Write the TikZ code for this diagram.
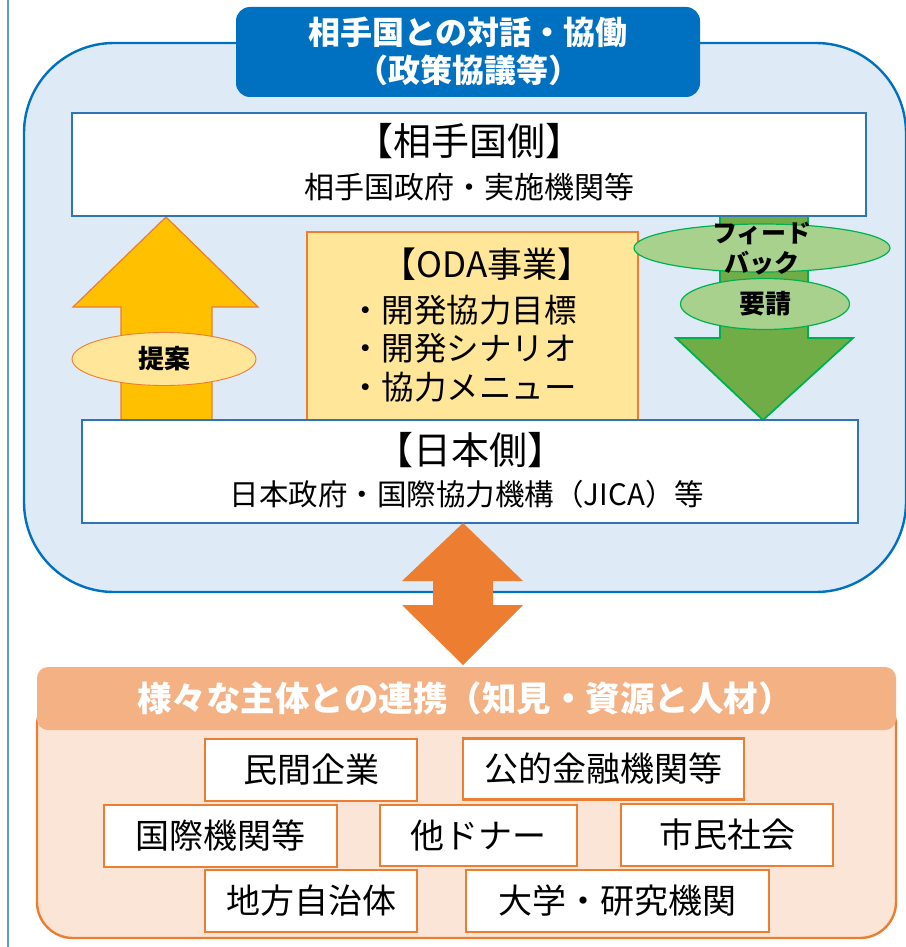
\documentclass[tikz,border=0pt]{standalone}
\usepackage{fontspec}
\setmainfont{Noto Sans CJK JP}
\usetikzlibrary{shapes.geometric}
\definecolor{sideblue}{HTML}{5B9BD5}
\definecolor{dblue}{HTML}{0070C0}
\definecolor{lblue}{HTML}{DEEBF7}
\definecolor{mblue}{HTML}{2E75B6}
\definecolor{orng}{HTML}{ED7D31}
\definecolor{lorng}{HTML}{F4B183}
\definecolor{porng}{HTML}{FBE5D6}
\definecolor{lyel}{HTML}{FFE699}
\definecolor{gold}{HTML}{FFC000}
\definecolor{grn}{HTML}{70AD47}
\definecolor{brgrn}{HTML}{00B050}
\definecolor{lgrn}{HTML}{A9D18E}
\tikzset{
  fs/.style={font=\fontsize{#1}{#1}\selectfont},
  whitebox/.style={draw=mblue, line width=1.8pt, fill=white},
  partbox/.style={draw=orng, line width=2.2pt, fill=white, inner sep=0pt, fs=34},
  ovalo/.style={ellipse, draw=orng, line width=0.9pt, fill=lyel, inner sep=0pt},
  ovalg/.style={ellipse, draw=brgrn, line width=1.2pt, fill=lgrn, inner sep=0pt},
  lbl/.style={inner sep=0pt, text=black}
}
\begin{document}
\begin{tikzpicture}[x=1pt,y=-1pt]
\useasboundingbox (0,0) rectangle (905,947);
% side line
\draw[sideblue, line width=2.6pt] (8,0) -- (8,947);
% outer blue container
\draw[fill=lblue, draw=dblue, line width=2.4pt, rounded corners=90pt] (24,43) rectangle (906,592);
% title box
\node[fill=dblue, rounded corners=14pt, minimum width=464pt, minimum height=90pt, inner sep=0pt] (title) at (468,52) {};
\node[lbl, text=white, align=center, font=\fontsize{32}{38}\selectfont\bfseries] (titletext) at (468,51) {相手国との対話・協働\\（政策協議等）};
% up arrow
\draw[fill=gold, draw=orng, line width=1.2pt] (166,217) -- (258,307) -- (212,307) -- (212,420) -- (121,420) -- (121,307) -- (73,307) -- cycle;
% down arrow
\draw[fill=grn, draw=brgrn, line width=1.8pt] (720,216) -- (808,216) -- (808,338) -- (853,338) -- (763,420) -- (676,338) -- (720,338) -- cycle;
% partner box
\draw[whitebox] (72,113) rectangle (866,216);
\node[lbl, fs=38] (ptitle) at (469,141) {【相手国側】};
\node[lbl, fs=30] (psub) at (469,187) {相手国政府・実施機関等};
% ODA box
\draw[fill=lyel, draw=orng, line width=1.2pt] (307,232) rectangle (638,420);
\node[lbl, fs=35] (oda) at (487,264) {【ODA事業】};
\node[lbl, fs=32.5, anchor=west] (oda1) at (349,310) {・開発協力目標};
\node[lbl, fs=32.5, anchor=west] (oda2) at (349,348) {・開発シナリオ};
\node[lbl, fs=32.5, anchor=west] (oda3) at (349,387) {・協力メニュー};
% japan box
\draw[whitebox] (82,420) rectangle (858,523);
\node[lbl, fs=38] (jtitle) at (470,450) {【日本側】};
\node[lbl, fs=29.5] (jsub) at (467,494) {日本政府・国際協力機構（JICA）等};
% ellipses
\node[ovalo, minimum width=184pt, minimum height=53pt] (teian) at (164,359) {};
\node[lbl, font=\fontsize{26}{26}\selectfont\bfseries] (teiant) at (164,359) {提案};
\node[ovalg, minimum width=256pt, minimum height=48pt] (fb) at (762,248) {};
\node[lbl, font=\fontsize{25}{25}\selectfont\bfseries] (fb1) at (762,233) {フィード};
\node[lbl, font=\fontsize{25}{25}\selectfont\bfseries] (fb2) at (762,263) {バック};
\node[ovalg, minimum width=169pt, minimum height=51pt] (yosei) at (765,304) {};
\node[lbl, font=\fontsize{26}{26}\selectfont\bfseries] (yoseit) at (765,304) {要請};
% double arrow
\fill[orng] (463,523) -- (523,581) -- (493,581) -- (493,605) -- (523,605) -- (463,665) -- (402,605) -- (433,605) -- (433,581) -- (402,581) -- cycle;
% bottom container
\draw[fill=porng, draw=orng, line width=2.4pt, rounded corners=36pt] (37,690) rectangle (896,938);
\fill[lorng, rounded corners=11pt] (37,667) rectangle (896,730);
\node[lbl, text=white, font=\fontsize{34.5}{34.5}\selectfont\bfseries] (btitle) at (465,698) {様々な主体との連携（知見・資源と人材）};
% partner boxes
\node[partbox, minimum width=212pt, minimum height=62pt] (b1) at (311,770) {民間企業};
\node[partbox, minimum width=281pt, minimum height=61pt] (b2) at (603.5,769) {公的金融機関等};
\node[partbox, minimum width=233pt, minimum height=62pt] (b3) at (220.5,836) {国際機関等};
\node[partbox, minimum width=197pt, minimum height=61pt] (b4) at (478.5,835.5) {他ドナー};
\node[partbox, minimum width=212pt, minimum height=62pt] (b5) at (727,835) {市民社会};
\node[partbox, minimum width=212pt, minimum height=62pt] (b6) at (311,901) {地方自治体};
\node[partbox, minimum width=303pt, minimum height=62pt] (b7) at (617.5,901) {大学・研究機関};
\end{tikzpicture}
\end{document}
